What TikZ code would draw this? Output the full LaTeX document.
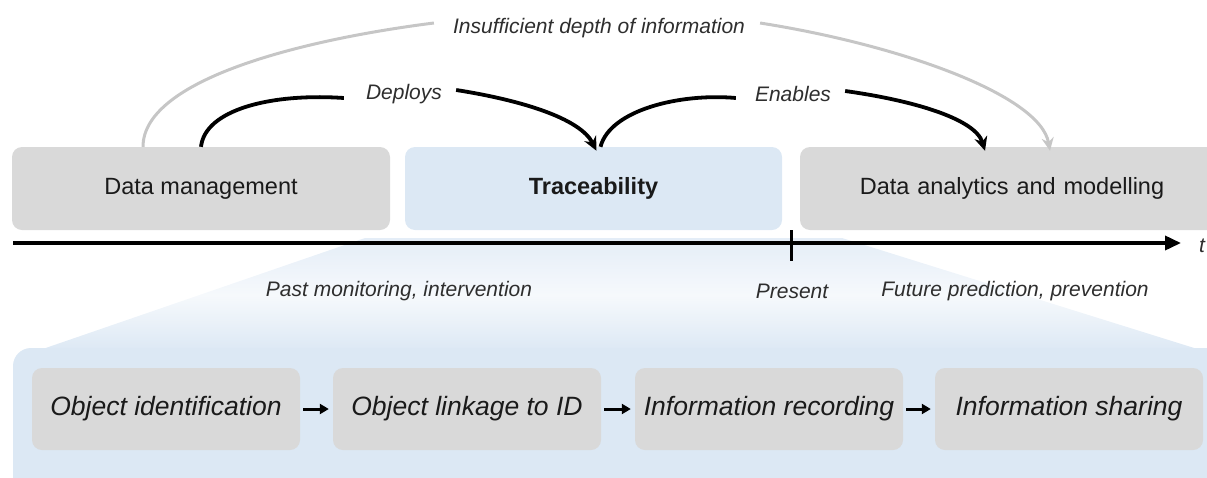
\documentclass[tikz,border=0pt]{standalone}
\usepackage{fontspec}
\setmainfont{Liberation Sans}
\usetikzlibrary{arrows.meta}
\definecolor{boxgray}{HTML}{D9D9D9}
\definecolor{tblue}{HTML}{DCE8F4}
\definecolor{tbluelight}{HTML}{E4EDF7}
\definecolor{tbluepale}{HTML}{F6F9FC}
\definecolor{arcgray}{HTML}{C6C6C6}
\definecolor{txt}{HTML}{1A1A1A}
\definecolor{lbl}{HTML}{2E2E2E}
\begin{document}
\begin{tikzpicture}[x=1pt,y=-1pt,
  topbox/.style={fill=boxgray, rounded corners=10pt, minimum height=83pt, text=txt, font=\fontsize{23.5}{26}\selectfont},
  lowbox/.style={fill=boxgray, rounded corners=10pt, minimum width=268pt, minimum height=82pt, text=txt, font=\fontsize{26.5}{30}\selectfont\itshape},
  lbltext/.style={text=lbl, font=\fontsize{21}{24}\selectfont\itshape, inner sep=0pt},
  blkarc/.style={draw=black, line width=3.8pt},
  grayarc/.style={draw=arcgray, line width=3pt},
  blktip/.style={-{Stealth[length=14pt,width=13pt]}},
  smallarrow/.style={draw=black, line width=3pt, -{Triangle[length=9pt,width=10pt]}}
]
\useasboundingbox (0,0) rectangle (1207,477);
\begin{scope}
\clip (0,0) rectangle (1207,477);
% blue zoom-in region
\shade[top color=tbluelight, bottom color=tblue, middle color=tbluepale]
  (365,238) -- (842,238) -- (1207,352) -- (34,352) -- cycle;
\fill[tblue, rounded corners=18pt] (13,348) rectangle (1250,520);

% top boxes
\node[topbox, minimum width=378pt] (dm) at (201,188.5) {Data management};
\node[topbox, minimum width=377pt, fill=tblue, font=\fontsize{23.5}{26}\selectfont\bfseries] (tr) at (593.5,188.5) {Traceability};
\node[topbox, minimum width=430pt, text width=410pt, align=center] (da) at (1015,188.5) {\hspace*{-6pt}Data analytics and modelling};
\end{scope}

% labels
\node[lbltext] (ins) at (599,28) {Insufficient depth of information};
\node[lbltext] (dep) at (404,94) {Deploys};
\node[lbltext] (ena) at (793,94) {Enables};

% gray arc
\draw[grayarc] ([xshift=-58pt]dm.north) .. controls (143,80) and (300,40) .. ([xshift=-19pt,yshift=5pt]ins.west);
\draw[grayarc, -{Stealth[length=13pt,width=12pt]}] ([xshift=15pt,yshift=5pt]ins.east) .. controls (900,45) and (1040,95) .. ([xshift=35pt,yshift=-4pt]da.north);

% Deploys arc
\draw[blkarc] (dm.north) .. controls (205,110) and (270,93) .. ([xshift=-22pt,yshift=-4pt]dep.west);
\draw[blkarc, blktip] ([xshift=14pt,yshift=4pt]dep.east) .. controls (520,100) and (580,118) .. ([xshift=3pt,yshift=-4pt]tr.north);

% Enables arc
\draw[blkarc] ([xshift=7pt]tr.north) .. controls (610,110) and (680,93) .. ([xshift=-19pt,yshift=-4pt]ena.west);
\draw[blkarc, blktip] ([xshift=14pt,yshift=3pt]ena.east) .. controls (910,100) and (975,118) .. ([xshift=-30pt,yshift=-4pt]da.north);

% time axis
\coordinate (ax0) at (13,243);
\coordinate (ax1) at (1181,243);
\draw[line width=3.6pt, -{Triangle[length=16pt,width=14pt]}] (ax0) -- (ax1);
\coordinate (tk0) at (791,230);
\coordinate (tk1) at (791,261);
\draw[line width=3pt] (tk0) -- (tk1);
\node[lbltext, anchor=west] (t) at (1199,246) {t};

% time labels
\node[lbltext] (past) at (399,291) {Past monitoring, intervention};
\node[lbltext] (pres) at (792,291) {Present};
\node[lbltext] (fut) at (1015,291) {Future prediction, prevention};

% lower boxes
\node[lowbox] (oi) at (166,409) {Object identification};
\node[lowbox] (ol) at (467,409) {Object linkage to ID};
\node[lowbox] (ir) at (769,409) {Information recording};
\node[lowbox] (is) at (1069,409) {Information sharing};
\draw[smallarrow] ([xshift=3pt]oi.east) -- ([xshift=-4pt]ol.west);
\draw[smallarrow] ([xshift=3pt]ol.east) -- ([xshift=-4pt]ir.west);
\draw[smallarrow] ([xshift=3pt]ir.east) -- ([xshift=-4pt]is.west);
\end{tikzpicture}
\end{document}
